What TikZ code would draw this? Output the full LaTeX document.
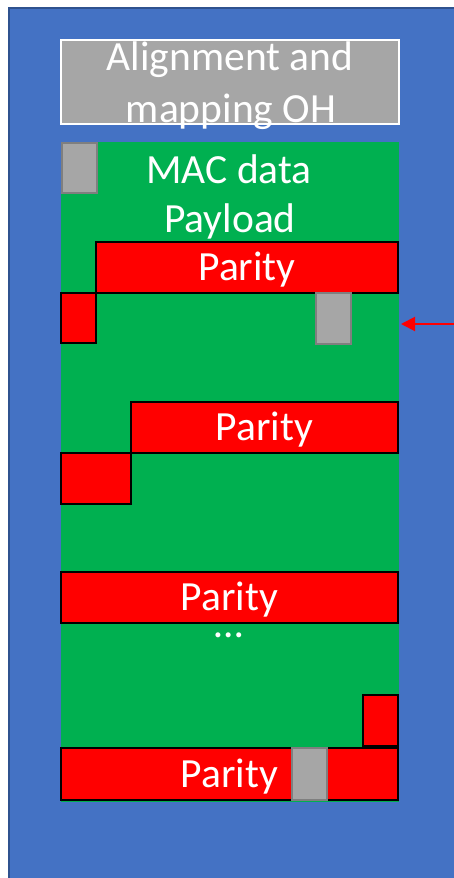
\documentclass[tikz,border=0pt]{standalone}
\usepackage{fontspec}
\setmainfont{Carlito}
\usetikzlibrary{arrows.meta}
\definecolor{bgblue}{HTML}{4472C4}
\definecolor{bgedge}{HTML}{2F528F}
\definecolor{fecgreen}{HTML}{00B050}
\definecolor{ohgray}{HTML}{A6A6A6}
\definecolor{ohedge}{HTML}{7F7F7F}
\tikzset{
  blk/.style={rectangle, inner sep=0pt, outer sep=0pt, anchor=north west},
  parbox/.style={blk, fill=red, draw=black, line width=2pt},
  graybox/.style={blk, fill=ohgray, draw=ohedge, line width=2pt},
  lbl/.style={text=white, font=\fontsize{41.5}{50}\selectfont, anchor=base, inner sep=0pt, outer sep=0pt},
}
\begin{document}
\begin{tikzpicture}[x=1pt,y=-1pt]
\useasboundingbox (0,0) rectangle (454,878);
\fill[white] (0,0) rectangle (454,878);
% frame
\node[blk, fill=bgblue, draw=bgedge, line width=2pt, minimum width=460pt, minimum height=880pt] (frame) at (9,8) {};
% green payload area
\node[blk, fill=fecgreen, minimum width=338pt, minimum height=660pt] (green) at (61,142) {};
% OH box
\node[blk, fill=ohgray, draw=white, line width=2pt, minimum width=338pt, minimum height=84pt] (oh) at (61,40) {};
\node[lbl] (ohA) at (230,70) {Alignment and};
\node[lbl] (ohB) at (231,122) {mapping OH};
% top-left gray
\node[graybox, minimum width=35pt, minimum height=50pt] (g1) at (62,143) {};
\node[lbl] (macA) at (229,183) {MAC data};
\node[lbl] (macB) at (230,232) {Payload};
% row 1
\node[parbox, minimum width=302pt, minimum height=51pt] (p1) at (96,242) {};
\node[lbl] (t1) at ([yshift=-13pt]p1.center) {Parity};
\node[parbox, minimum width=35pt, minimum height=50pt] (r1) at (61,293) {};
\node[graybox, minimum width=35pt, minimum height=51pt] (g2) at (316,293) {};
% row 2
\node[parbox, minimum width=267pt, minimum height=51pt] (p2) at (131,402) {};
\node[lbl] (t2) at ([yshift=-13pt]p2.center) {Parity};
\node[parbox, minimum width=70pt, minimum height=51pt] (r2) at (61,453) {};
% row 3
\node[parbox, minimum width=337pt, minimum height=51pt] (p3) at (61,572) {};
\node[lbl] (t3) at ([yshift=-13pt]p3.center) {Parity};
\node[lbl] (dots) at (229,637) {…};
% row 4
\node[parbox, minimum width=35pt, minimum height=51pt] (r4) at (363,695) {};
\node[parbox, minimum width=337pt, minimum height=52pt] (p4) at (61,748) {};
\node[lbl] (t4) at ([yshift=-13pt]p4.center) {Parity};
\node[graybox, minimum width=35pt, minimum height=52pt] (g4) at (292,748) {};
% arrow
\coordinate (src) at (456,324);
\coordinate (tgt) at (401,324);
\draw[red, line width=2pt, -{Triangle[length=14pt,width=14pt]}] (src) -- (tgt);
\end{tikzpicture}
\end{document}
